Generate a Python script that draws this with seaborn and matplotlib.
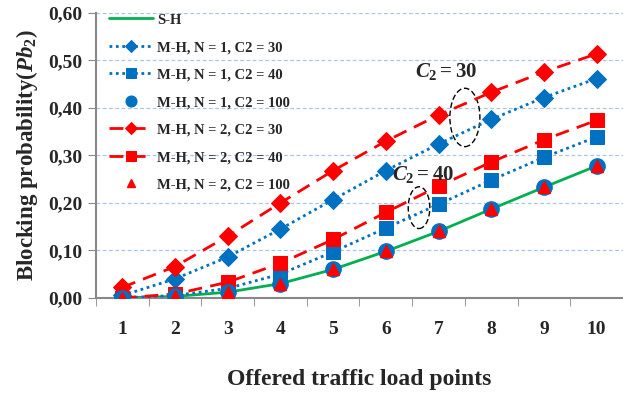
import numpy as np
import pandas as pd
import seaborn as sns
import matplotlib.pyplot as plt
from matplotlib.patches import Ellipse
from matplotlib.ticker import FuncFormatter, FixedLocator

# --- data ---
load_points = [1, 2, 3, 4, 5, 6, 7, 8, 9, 10]
sh = [0.000, 0.003, 0.012, 0.030, 0.060, 0.098, 0.140, 0.187, 0.233, 0.278]
mh_n1_c30 = [0.005, 0.040, 0.086, 0.145, 0.207, 0.268, 0.324, 0.376, 0.422, 0.462]
mh_n1_c40 = [0.000, 0.005, 0.020, 0.050, 0.097, 0.147, 0.197, 0.248, 0.296, 0.339]
mh_n1_c100 = [0.000, 0.003, 0.012, 0.030, 0.060, 0.098, 0.140, 0.187, 0.233, 0.278]
mh_n2_c30 = [0.022, 0.066, 0.130, 0.200, 0.268, 0.330, 0.385, 0.433, 0.476, 0.514]
mh_n2_c40 = [0.000, 0.008, 0.033, 0.073, 0.123, 0.180, 0.235, 0.286, 0.333, 0.374]
mh_n2_c100 = [0.000, 0.003, 0.012, 0.030, 0.060, 0.098, 0.140, 0.187, 0.233, 0.278]

blue = '#0070C0'
red = '#FF0000'
green = '#00B050'

sns.set_style('white')
plt.rcParams['font.family'] = ['Liberation Serif', 'DejaVu Serif']
plt.rcParams['font.weight'] = 'bold'
plt.rcParams['mathtext.fontset'] = 'custom'
plt.rcParams['mathtext.rm'] = 'Liberation Serif:bold'
plt.rcParams['mathtext.bf'] = 'Liberation Serif:bold'
plt.rcParams['mathtext.it'] = 'Liberation Serif:bold:italic'

fig = plt.figure(figsize=(6.23, 3.94), dpi=100)
ax = fig.add_axes([0.154, 0.244, 0.846, 0.723])

sns.lineplot(x=load_points, y=sh, ax=ax, color=green, lw=2, label='S-H', zorder=2)
sns.lineplot(x=load_points, y=mh_n1_c30, ax=ax, color=blue, lw=2, ls=(0, (1, 1.3)),
             marker='D', ms=9, mec=blue, label='M-H, N = 1, C2 = 30', zorder=3)
sns.lineplot(x=load_points, y=mh_n1_c40, ax=ax, color=blue, lw=2, ls=(0, (1, 1.3)),
             marker='s', ms=10, mec=blue, label='M-H, N = 1, C2 = 40', zorder=3)
ax.plot(load_points, mh_n1_c100, ls='none', marker='o', ms=11, color=blue, mec=blue,
        label='M-H, N = 1, C2 = 100', zorder=4)
sns.lineplot(x=load_points, y=mh_n2_c30, ax=ax, color=red, lw=2, ls=(0, (5, 3)),
             marker='D', ms=9, mec=red, label='M-H, N = 2, C2 = 30', zorder=3)
sns.lineplot(x=load_points, y=mh_n2_c40, ax=ax, color=red, lw=2, ls=(0, (5, 3)),
             marker='s', ms=10, mec=red, label='M-H, N = 2, C2 = 40', zorder=3)
ax.plot(load_points, mh_n2_c100, ls='none', marker='^', ms=8, color=red, mec=red,
        label='M-H, N = 2, C2 = 100', zorder=5)

ax.set_xlim(0.5, 10.5)
ax.set_ylim(0, 0.6)
ax.set_yticks(np.arange(0, 0.61, 0.1))
ax.yaxis.set_major_formatter(FuncFormatter(lambda v, p: f"{v:.2f}".replace('.', ',')))
ax.set_xticks(load_points)
ax.xaxis.set_minor_locator(FixedLocator(np.arange(0.5, 11, 1)))
ax.tick_params(axis='x', which='major', length=0, labelsize=14, pad=17)
ax.tick_params(axis='x', which='minor', length=6, color='#888888', direction='out', bottom=True)
ax.tick_params(axis='y', which='major', length=6, color='#888888', direction='out', labelsize=14, left=True)

ax.grid(axis='y', color='#A9C4E6', ls=(0, (3, 2)), lw=0.9)
ax.grid(axis='x', visible=False)
for s in ['top', 'right']:
    ax.spines[s].set_visible(False)
for s in ['left', 'bottom']:
    ax.spines[s].set_color('#888888')
    ax.spines[s].set_linewidth(1.5)

ax.set_xlabel('Offered traffic load points', fontsize=17, fontweight='bold', labelpad=22)
ax.set_ylabel(r'Blocking probability($\mathit{Pb}_2$)', fontsize=16.5,
              fontweight='bold', labelpad=6)

# annotations
ax.text(7.14, 0.476, r'$\mathit{C}_2 = 30$', fontsize=15, ha='center', va='center')
ax.add_patch(Ellipse((7.5, 0.38), 0.57, 0.123, fill=False, ec='black', ls=(0, (4, 2)), lw=1))
ax.text(6.71, 0.259, r'$\mathit{C}_2 = 40$', fontsize=15, ha='center', va='center')
ax.add_patch(Ellipse((6.63, 0.19), 0.41, 0.088, fill=False, ec='black', ls=(0, (4, 2)), lw=1))

leg = ax.legend(loc='upper left', bbox_to_anchor=(0.0, 1.045), frameon=False,
                fontsize=10.5, handlelength=3.0, handletextpad=0.3,
                labelspacing=0.98, markerscale=0.7)
for t in leg.get_texts():
    t.set_fontweight('bold')

fig.savefig('out.png', dpi=100)
